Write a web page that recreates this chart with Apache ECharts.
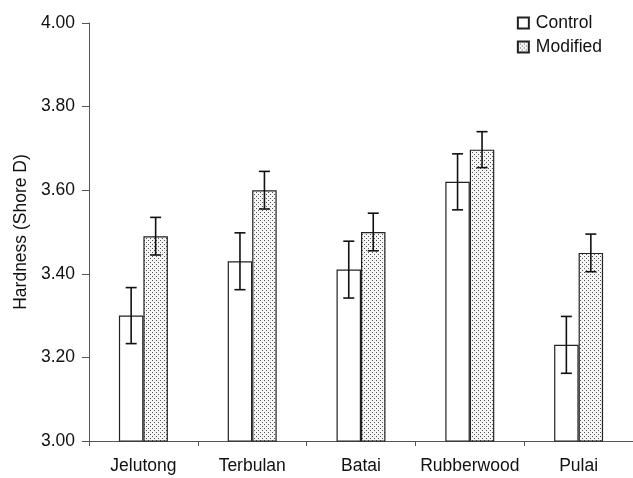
<!DOCTYPE html>
<html><head><meta charset="utf-8">
<script src="https://cdn.jsdelivr.net/npm/echarts@6/dist/echarts.min.js"></script>
<style>html,body{margin:0;padding:0;background:#fff}#c{width:633px;height:478px}</style>
</head><body><div id="c"></div>
<script>
var categories = ['Jelutong', 'Terbulan', 'Batai', 'Rubberwood', 'Pulai'];
var controlValues = [3.30, 3.43, 3.41, 3.62, 3.23];
var controlErr = [0.067, 0.068, 0.068, 0.067, 0.068];
var modifiedValues = [3.49, 3.60, 3.50, 3.697, 3.45];
var modifiedErr = [0.045, 0.045, 0.045, 0.043, 0.045];
var yTicks = [3.0, 3.2, 3.4, 3.6, 3.8, 4.0];

var cv = document.createElement('canvas');
cv.width = 4; cv.height = 4;
var cx = cv.getContext('2d');
cx.fillStyle = '#f6f6f6'; cx.fillRect(0, 0, 4, 4);
cx.fillStyle = '#555';
cx.fillRect(0, 0, 1, 1);
cx.fillRect(2, 2, 1, 1);
var dotPattern = { image: cv, repeat: 'repeat' };

var font = 'Liberation Sans, Arial, sans-serif';
var gapRatio = 0.55;
var fs = 17.5;

function errSeries(vals, errs, side) {
  return {
    type: 'custom',
    z: 5,
    silent: true,
    data: vals.map(function (v, i) { return [i, v - errs[i], v + errs[i]]; }),
    renderItem: function (params, api) {
      var band = api.size([1, 0])[0];
      var barW = band * (1 - gapRatio) / 2;
      var off = side * barW / 2;
      var lo = api.coord([api.value(0), api.value(1)]);
      var hi = api.coord([api.value(0), api.value(2)]);
      var x = lo[0] + off;
      var cap = 5.5;
      var st = { stroke: '#111', lineWidth: 1.6 };
      return {
        type: 'group',
        children: [
          { type: 'line', shape: { x1: x, y1: lo[1], x2: x, y2: hi[1] }, style: st },
          { type: 'line', shape: { x1: x - cap, y1: lo[1], x2: x + cap, y2: lo[1] }, style: st },
          { type: 'line', shape: { x1: x - cap, y1: hi[1], x2: x + cap, y2: hi[1] }, style: st }
        ]
      };
    }
  };
}

var chart = echarts.init(document.getElementById('c'), null, { renderer: 'canvas' });
chart.setOption({
  animation: false,
  backgroundColor: '#fff',
  textStyle: { fontFamily: font },
  grid: { left: 89, top: 23, right: 0, bottom: 37 },
  legend: {
    orient: 'vertical',
    right: 26, top: 9,
    itemWidth: 11, itemHeight: 11, itemGap: 6,
    icon: 'rect',
    textStyle: { fontSize: fs, color: '#111', fontFamily: font, padding: [0, 0, 0, 2] },
    data: ['Control', 'Modified']
  },
  xAxis: {
    type: 'category',
    data: categories,
    axisLine: { lineStyle: { color: '#555', width: 1 } },
    axisTick: { show: true, length: 5, interval: 0, lineStyle: { color: '#555' } },
    axisLabel: { fontSize: fs, color: '#111', margin: 16, interval: 0, fontFamily: font }
  },
  yAxis: {
    type: 'value',
    min: yTicks[0], max: yTicks[yTicks.length - 1], interval: 0.2,
    name: 'Hardness (Shore D)',
    nameLocation: 'middle', nameGap: 59, nameRotate: 90,
    nameTextStyle: { fontSize: fs, color: '#111', fontFamily: font },
    axisLine: { show: true, lineStyle: { color: '#555', width: 1 } },
    axisTick: { show: true, length: 7, lineStyle: { color: '#555' } },
    splitLine: { show: false },
    axisLabel: { fontSize: fs, color: '#111', margin: 14, fontFamily: font,
      formatter: function (v) { return v.toFixed(2); } }
  },
  series: [
    { name: 'Control', type: 'bar', data: controlValues, barGap: '0%', barCategoryGap: (gapRatio * 100) + '%',
      itemStyle: { color: '#fff', borderColor: '#222', borderWidth: 1.2 } },
    { name: 'Modified', type: 'bar', data: modifiedValues, barGap: '0%', barCategoryGap: (gapRatio * 100) + '%',
      itemStyle: { color: dotPattern, borderColor: '#222', borderWidth: 1.2 } },
    errSeries(controlValues, controlErr, -1),
    errSeries(modifiedValues, modifiedErr, 1)
  ]
});
</script></body></html>
